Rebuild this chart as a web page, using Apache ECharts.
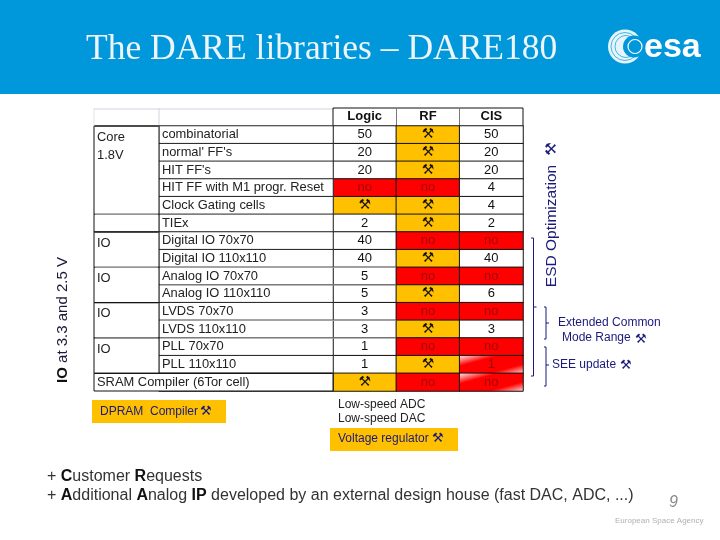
<!DOCTYPE html>
<html><head><meta charset="utf-8">
<style>html,body{margin:0;padding:0;background:#fff}#c{width:720px;height:540px}</style>
<script src="https://cdn.jsdelivr.net/npm/echarts@6/dist/echarts.min.js"></script>
</head><body><div id="c"></div>
<script>
var TOOL = '\u2692';
var columns = ['Logic', 'RF', 'CIS'];
var cells = ['combinatorial', "normal' FF's", "HIT FF's", 'HIT FF with M1 progr. Reset', 'Clock Gating cells', 'TIEx', 'Digital IO 70x70', 'Digital IO 110x110', 'Analog IO 70x70', 'Analog IO 110x110', 'LVDS 70x70', 'LVDS 110x110', 'PLL 70x70', 'PLL 110x110', 'SRAM Compiler (6Tor cell)'];
var logic = ['50', '20', '20', 'no', TOOL, '2', '40', '40', '5', '5', '3', '3', '1', '1', TOOL];
var rf = [TOOL, TOOL, TOOL, 'no', TOOL, TOOL, 'no', TOOL, 'no', TOOL, 'no', TOOL, 'no', TOOL, 'no'];
var cis = ['50', '20', '20', '4', '4', '2', 'no', '40', 'no', '6', 'no', '3', 'no', '1', 'no'];
var groupNames = ['Core\n1.8V', '', 'IO', 'IO', 'IO', 'IO', ''];
var groupSpans = [5, 1, 2, 2, 2, 2, 1];
var fadedCells = ['2|13', '2|14'];
var softRuleRows = [8, 9, 11, 12];

var RED = '#ff0000', ORANGE = '#ffc000', BLUE = '#0098db';
function fade() {
  return new echarts.graphic.LinearGradient(0, 0, 0.15, 1.85, [
    {offset: 0, color: '#ffffff'}, {offset: 0.3, color: '#ff0000'}, {offset: 0.7, color: '#ff0000'}, {offset: 1, color: '#ffffff'}]);
}
function cellFill(c, r, v) {
  if (fadedCells.indexOf(c + '|' + r) >= 0) return fade();
  if (v === 'no') return RED;
  if (v === TOOL) return ORANGE;
  return '#ffffff';
}
var heat = [];
[logic, rf, cis].forEach(function (col, c) {
  col.forEach(function (v, r) {
    var faded = fadedCells.indexOf(c + '|' + r) >= 0;
    heat.push({value: [c, r, 1, v], itemStyle: {color: cellFill(c, r, v)},
      label: {color: (v === 'no' || faded) ? '#9c0a0a' : '#111', fontSize: v === TOOL ? 14 : 13,
        fontFamily: v === TOOL ? 'DejaVu Sans' : 'Liberation Sans'}});
  });
});
var leftX = 94, nameX = 159, tableX = 333, tableR = 523, topY = 108, headY = 126, botY = 391;
var NAVY = '#1a1a7a';
function T(x, y, text, size, color, extra) {
  extra = extra || {};
  return {type: 'text', x: x, y: y, silent: true, rotation: extra.rotation || 0,
    style: {text: text, fontSize: size, fill: color, fontFamily: extra.font || 'Liberation Sans',
      fontStyle: extra.italic ? 'italic' : 'normal', fontWeight: extra.bold ? 'bold' : 'normal',
      align: extra.align || 'left', verticalAlign: 'middle', rich: extra.rich}};
}
function L(pts, color, w) {
  return {type: 'polyline', silent: true, shape: {points: pts}, style: {stroke: color, lineWidth: w || 1, fill: null}};
}
function R(x, y, w, h, color) {
  return {type: 'rect', silent: true, shape: {x: x, y: y, width: w, height: h}, style: {fill: color}};
}
var boldRich = {b: {fontWeight: 'bold', fontSize: 16, fill: '#111', fontFamily: 'Liberation Sans'}};
var gfx = [
  R(0, 0, 720, 94, BLUE),
  R(92, 400, 134, 23, ORANGE),
  R(330, 428, 128, 23, ORANGE),
  T(100, 412, 'DPRAM  Compiler', 12, NAVY), T(200, 412, TOOL, 13, NAVY, {font: 'DejaVu Sans'}),
  T(338, 405, 'Low-speed ADC', 12, '#222'), T(338, 419, 'Low-speed DAC', 12, '#222'),
  T(338, 439, 'Voltage regulator', 12, NAVY), T(432, 439, TOOL, 13, NAVY, {font: 'DejaVu Sans'}),
  T(47, 477, '+ {b|C}ustomer {b|R}equests', 16, '#333', {rich: boldRich}),
  T(47, 496, '+ {b|A}dditional {b|A}nalog {b|IP} developed by an external design house (fast DAC, ADC, ...)', 16, '#333', {rich: boldRich}),
  T(669, 503, '9', 16, '#888', {italic: true}),
  T(615, 521, 'European Space Agency', 8, '#b0b0b0'),
  T(558, 323, 'Extended Common', 12, NAVY), T(562, 338, 'Mode Range', 12, NAVY), T(635, 340, TOOL, 13, NAVY, {font: 'DejaVu Sans'}),
  T(552, 365, 'SEE update', 12, NAVY), T(620, 366, TOOL, 13, NAVY, {font: 'DejaVu Sans'}),
  T(63, 320, '{b|IO} at 3.3 and 2.5 V', 15, '#1a1a3a', {rotation: Math.PI / 2, align: 'center', rich: {b: {fontWeight: 'bold', fontSize: 15, fill: '#111', fontFamily: 'Liberation Sans'}}}),
  T(552, 226, 'ESD Optimization', 15.5, NAVY, {rotation: Math.PI / 2, align: 'center'}),
  T(552, 149, TOOL, 15, NAVY, {rotation: Math.PI / 2, align: 'center', font: 'DejaVu Sans'}),
  T(305, 271, 'Any', 14, '#7f2d8a', {rotation: 0.55, align: 'center', font: 'Liberation Serif'}),
  T(310, 315, 'Any', 14, '#7f2d8a', {rotation: 0.55, align: 'center', font: 'Liberation Serif'}),
  // logo
  {type: 'circle', silent: true, shape: {cx: 625, cy: 46.5, r: 17}, style: {fill: '#ffffff', opacity: 0.9}},
  {type: 'circle', silent: true, shape: {cx: 625, cy: 46.5, r: 14}, style: {fill: null, stroke: BLUE, lineWidth: 0.7}},
  {type: 'circle', silent: true, shape: {cx: 626, cy: 46.5, r: 11}, style: {fill: null, stroke: BLUE, lineWidth: 0.7}},
  {type: 'circle', silent: true, shape: {cx: 634, cy: 46.5, r: 11}, style: {fill: BLUE}},
  {type: 'circle', silent: true, shape: {cx: 635, cy: 46.5, r: 7}, style: {fill: null, stroke: '#fff', lineWidth: 1.2}},
  T(644, 48, 'esa', 34, '#ffffff', {bold: true}),
  // brackets
  L([[531, 238], [533.5, 238], [533.5, 376], [531, 376]], NAVY),
  L([[533.5, 307], [536.5, 307]], NAVY),
  L([[544, 307], [546, 307], [546, 339], [544, 339]], NAVY),
  L([[546, 323], [549, 323]], NAVY),
  L([[544, 347], [546, 347], [546, 386], [544, 386]], NAVY),
  L([[546, 365], [549, 365]], NAVY),
  // header rules
  L([[leftX, topY + 1], [tableX, topY + 1]], '#cfd4de'),
  L([[leftX, topY], [leftX, headY]], '#dfe3ea'),
  L([[nameX, topY], [nameX, headY]], '#cfd4de'),
  L([[tableX, headY], [tableX, topY], [tableR, topY], [tableR, headY]], '#111'),
  L([[396.5, topY], [396.5, headY]], '#777'),
  L([[459.5, topY], [459.5, headY]], '#777')
];

var option = {
  animation: false,
  title: {text: 'The DARE libraries \u2013 DARE180', left: 86, top: 32, textStyle: {color: '#edf5fa', fontFamily: 'Liberation Serif', fontWeight: 'normal', fontSize: 35.5}, padding: 0},
  grid: [{left: tableX, top: headY, width: tableR - tableX, height: botY - headY},
         {left: leftX, top: headY, width: nameX - leftX, height: botY - headY},
         {left: nameX, top: headY, width: tableX - nameX, height: botY - headY}],
  xAxis: [
    {type: 'category', gridIndex: 0, position: 'top', data: columns, axisTick: {show: false}, axisLine: {lineStyle: {color: '#111'}}, axisLabel: {color: '#111', fontWeight: 'bold', fontSize: 13, margin: 3, fontFamily: 'Liberation Sans'}},
    {type: 'value', gridIndex: 1, min: 0, max: 1, show: false},
    {type: 'category', gridIndex: 2, data: ['name'], show: false}
  ],
  yAxis: [
    {type: 'category', gridIndex: 0, inverse: true, data: cells, axisLine: {show: false}, axisTick: {show: false}, axisLabel: {show: false}},
    {type: 'value', gridIndex: 1, inverse: true, min: 0, max: cells.length, show: false},
    {type: 'category', gridIndex: 2, inverse: true, data: cells, axisLine: {show: false}, axisTick: {show: false}, axisLabel: {show: false}}
  ],
  graphic: {elements: gfx},
  series: [
    {type: 'heatmap', xAxisIndex: 0, yAxisIndex: 0, data: heat, encode: {x: 0, y: 1, value: 2},
      label: {show: true, formatter: function (p) { return p.value[3]; }},
      itemStyle: {borderColor: '#111', borderWidth: 1}, emphasis: {disabled: true}},
    {type: 'heatmap', xAxisIndex: 2, yAxisIndex: 2, data: cells.map(function (n, i) { return [0, i, 1]; }),
      encode: {x: 0, y: 1, value: 2}, itemStyle: {color: '#fff', borderColor: '#222', borderWidth: 1},
      label: {show: false}, emphasis: {disabled: true}},
    {type: 'custom', xAxisIndex: 2, yAxisIndex: 2, silent: true, z: 5, data: cells.map(function (n, i) { return [0, i]; }),
      renderItem: function (params, api) {
        var p = api.coord([0, api.value(1)]);
        if (params.dataIndex === 14) return {type: 'group', children: []};
        return {type: 'text', x: nameX + 3, y: p[1], style: {text: cells[params.dataIndex], fontSize: 12.9, fill: '#222', fontFamily: 'Liberation Sans', verticalAlign: 'middle'}};
      }},
    {type: 'custom', xAxisIndex: 1, yAxisIndex: 1, silent: true, z: 4,
      data: groupSpans.map(function (s, i) { return [i, s]; }),
      renderItem: function (params, api) {
        var i = params.dataIndex, start = 0;
        for (var k = 0; k < i; k++) start += groupSpans[k];
        var a = api.coord([0, start]), b = api.coord([1, start + groupSpans[i]]);
        var last = i === groupSpans.length - 1;
        var x2 = last ? tableX : b[0];
        var soft = i === 1 || i === 3 || i === 5;
        return {type: 'group', children: [
          {type: 'rect', shape: {x: a[0], y: a[1], width: x2 - a[0], height: b[1] - a[1]}, style: {fill: '#fff', stroke: '#111', lineWidth: 1}},
          {type: 'line', shape: {x1: a[0] + 1, y1: a[1], x2: x2 - 1, y2: a[1]}, style: {stroke: soft ? '#aaa' : '#111', lineWidth: 1}},
          {type: 'text', x: a[0] + 3, y: last ? (a[1] + b[1]) / 2 : a[1] + 2, style: {
            text: last ? cells[14] : groupNames[i], fontSize: 12.9, lineHeight: 18, fill: '#222', fontFamily: 'Liberation Sans',
            verticalAlign: last ? 'middle' : 'top'}}
        ]};
      }},
    {type: 'custom', xAxisIndex: 2, yAxisIndex: 2, silent: true, z: 6, data: softRuleRows.map(function (r) { return [0, r]; }),
      renderItem: function (params, api) {
        var p = api.coord([0, api.value(1)]);
        var h = api.size([0, 1])[1];
        return {type: 'line', shape: {x1: nameX + 1, y1: p[1] - h / 2, x2: 396, y2: p[1] - h / 2}, style: {stroke: '#aaa', lineWidth: 1}};
      }}
  ]
};
var chart = echarts.init(document.getElementById('c'));
chart.setOption(option);
</script></body></html>
